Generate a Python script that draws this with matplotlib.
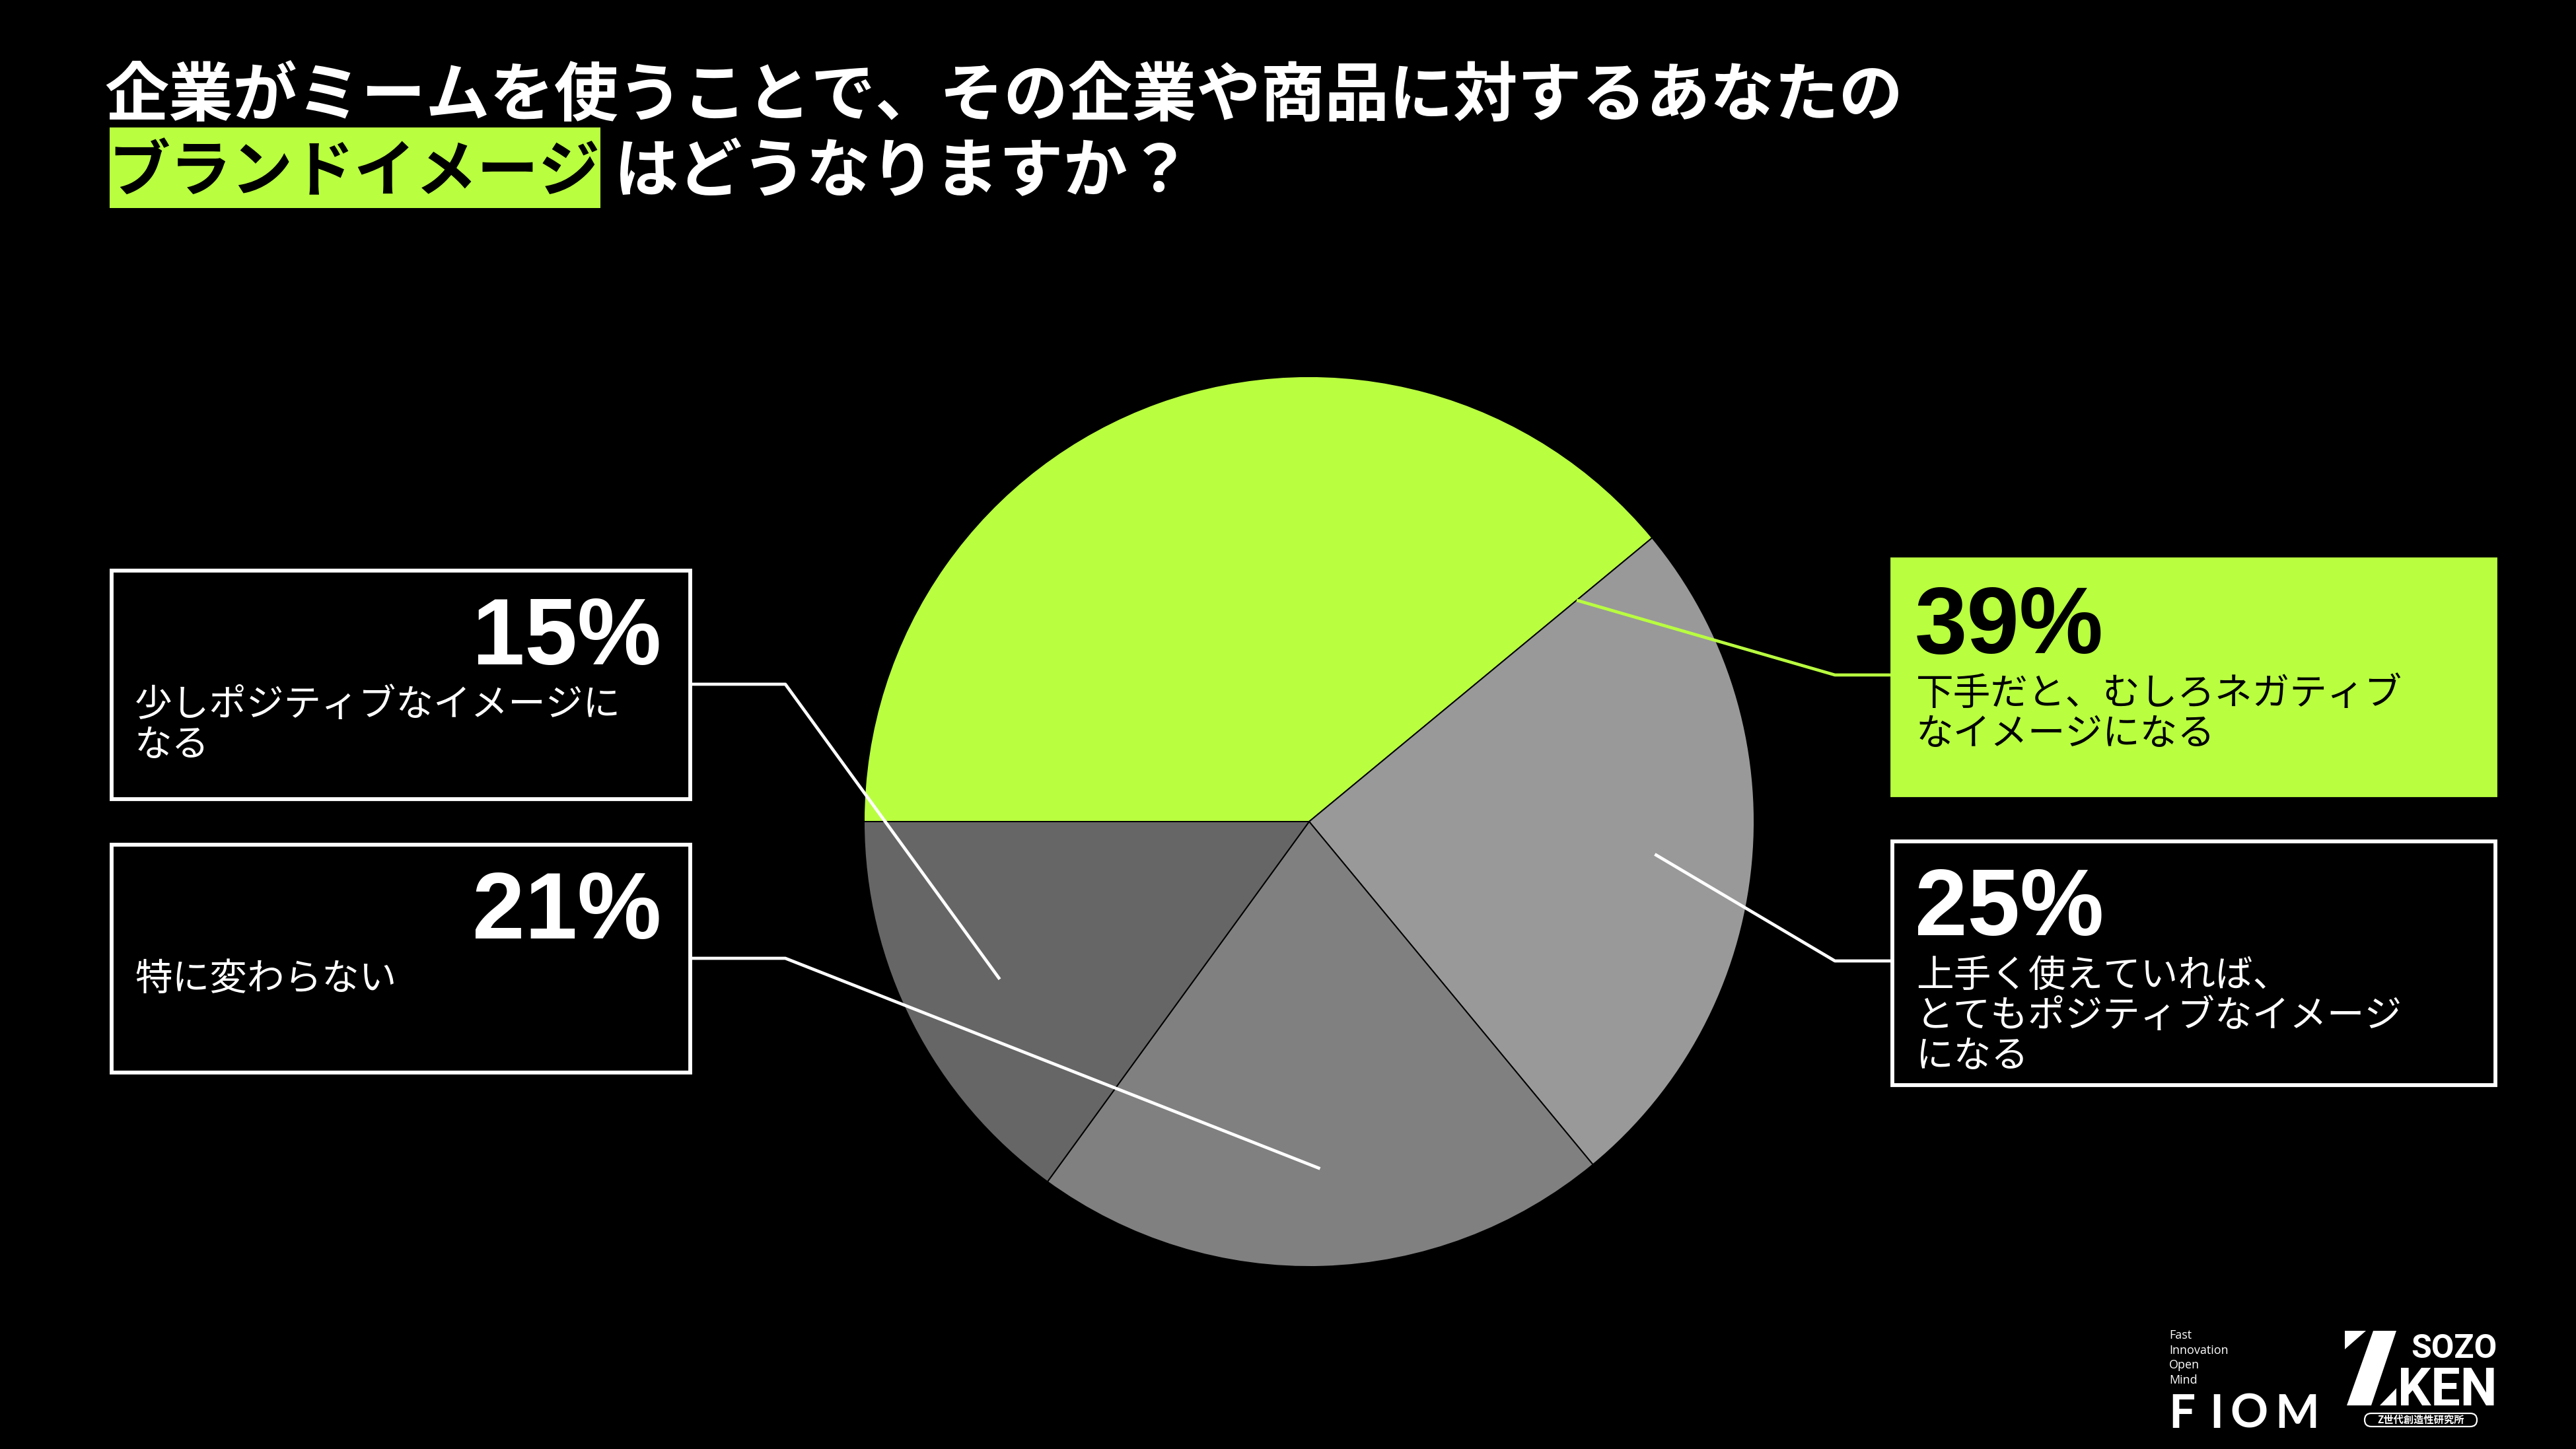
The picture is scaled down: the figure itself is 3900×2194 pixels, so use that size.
"""Pie chart: corporate meme usage and brand image (Z世代 survey slide)."""
import numpy as np
import matplotlib
matplotlib.use("Agg")
import matplotlib.pyplot as plt
from matplotlib.patches import Rectangle, Polygon, FancyBboxPatch

# -----------------------------------------------------------------------------
# Data
# -----------------------------------------------------------------------------
TITLE_LINE1 = "企業がミームを使うことで、その企業や商品に対するあなたの"
TITLE_HIGHLIGHT = "ブランドイメージ"
TITLE_REST = "はどうなりますか？"

values = [39, 25, 21, 15]
pct_labels = ["39%", "25%", "21%", "15%"]
desc_lines = [
    ["下手だと、むしろネガティブ", "なイメージになる"],
    ["上手く使えていれば、", "とてもポジティブなイメージ", "になる"],
    ["特に変わらない"],
    ["少しポジティブなイメージに", "なる"],
]

GREEN = "#B9FF40"
slice_colors = [GREEN, "#999999", "#808080", "#666666"]

# -----------------------------------------------------------------------------
# Layout (pixel coords, y measured from the top of the image)
# -----------------------------------------------------------------------------
W, H = 3900, 2194
PIE_C = (1982, 1244)
PIE_R = 674

# box: (x0, y0, x1, y1), side, filled
boxes = [
    (2865, 847, 3778, 1204, "right", True),
    (2865, 1274, 3778, 1643, "right", False),
    (169, 1279, 1045, 1624, "left", False),
    (169, 864, 1045, 1210, "left", False),
]
knee_y = [1022, 1455, 1451, 1036]
anchor_frac = [0.0, 0.5, 0.5, 0.5]   # position along wedge for leader start
ANCHOR_R = 0.78

JP = ["Noto Sans CJK JP", "DejaVu Sans"]
NUM = ["Liberation Sans", "DejaVu Sans"]
plt.rcParams["font.family"] = JP


def Y(y):
    return H - y


fig = plt.figure(figsize=(W / 100, H / 100), dpi=100, facecolor="black")
ax = fig.add_axes([0, 0, 1, 1])
ax.set_facecolor("black")

wedges, _ = ax.pie(
    values,
    colors=slice_colors,
    startangle=180,
    counterclock=False,
    center=(PIE_C[0], Y(PIE_C[1])),
    radius=PIE_R,
    wedgeprops=dict(edgecolor="black", linewidth=1.4),
)
ax.set_xlim(0, W)
ax.set_ylim(0, H)
ax.axis("off")

# --- Title -------------------------------------------------------------------
ax.text(158, Y(147), TITLE_LINE1, color="white", fontsize=70, weight="bold",
        ha="left", va="center")
ax.add_patch(Rectangle((166, Y(315)), 909 - 166, 315 - 193,
                       facecolor=GREEN, edgecolor="none", zorder=4))
ax.text(164, Y(262), TITLE_HIGHLIGHT, color="black", fontsize=67,
        weight="bold", ha="left", va="center", zorder=5)
ax.text(930, Y(262), TITLE_REST, color="white", fontsize=70,
        weight="bold", ha="left", va="center")

# --- Boxes, labels and leader lines ------------------------------------------
for i, (x0, y0, x1, y1, side, filled) in enumerate(boxes):
    fg = "black" if filled else "white"
    line_c = GREEN if filled else "white"
    ax.add_patch(Rectangle((x0, Y(y1)), x1 - x0, y1 - y0,
                           facecolor=GREEN if filled else "black",
                           edgecolor=GREEN if filled else "white",
                           linewidth=4.2, zorder=3))
    if side == "right":
        ax.text(x0 + 34, Y(y0 + 142), pct_labels[i], color=fg, fontsize=103,
                weight="bold", family=NUM, ha="left", va="baseline", zorder=4)
        tx = x0 + 36
    else:
        ax.text(x1 - 44, Y(y0 + 142), pct_labels[i], color=fg, fontsize=103,
                weight="bold", family=NUM, ha="right", va="baseline", zorder=4)
        tx = x0 + 35
    for k, line in enumerate(desc_lines[i]):
        ax.text(tx, Y(y0 + 220 + 61 * k), line, color=fg, fontsize=40.8,
                ha="left", va="baseline", zorder=4)

    # leader line: from inside the wedge to a knee, then flat to the box
    w = wedges[i]
    ang = np.deg2rad(w.theta1 + anchor_frac[i] * (w.theta2 - w.theta1))
    sx = w.center[0] + ANCHOR_R * PIE_R * np.cos(ang)
    sy = w.center[1] + ANCHOR_R * PIE_R * np.sin(ang)
    ky = Y(knee_y[i])
    xs = [sx, 2778, x0] if side == "right" else [sx, 1189, x1]
    ax.plot(xs, [sy, ky, ky], color=line_c, linewidth=3.4,
            solid_capstyle="butt", zorder=2.5)

# --- Logos -------------------------------------------------------------------
for k, word in enumerate(["Fast", "Innovation", "Open", "Mind"]):
    ax.text(3284, Y(2027 + 22.7 * k), word, color="white", fontsize=13,
            family=["Open Sans", "DejaVu Sans"], ha="left", va="baseline")
for ch, lx in zip("FIOM", [3283, 3345, 3376, 3444]):
    ax.text(lx, Y(2162), ch, color="white", fontsize=51, weight="bold",
            family=["Lato", "DejaVu Sans"], ha="left", va="baseline")

zmark = [
    [(3550, 2015), (3582, 2015), (3550, 2043)],
    [(3593, 2015), (3628, 2015), (3590, 2128), (3553, 2128)],
    [(3603, 2128), (3628, 2128), (3628, 2102)],
]
for poly in zmark:
    ax.add_patch(Polygon([(px, Y(py)) for px, py in poly], closed=True,
                         facecolor="white", edgecolor="none"))
ax.text(3780, Y(2056), "SOZO", color="white", fontsize=36, weight="bold",
        family=["Roboto", "DejaVu Sans"], ha="right", va="baseline")
ax.text(3781, Y(2128), "KEN", color="white", fontsize=57, weight="bold",
        family=["Roboto", "DejaVu Sans"], ha="right", va="baseline")
ax.add_patch(FancyBboxPatch((3580, Y(2160)), 170, 20,
                            boxstyle="round,pad=0,rounding_size=10",
                            facecolor="black", edgecolor="white", linewidth=1.6))
ax.text(3665, Y(2150), "Z世代創造性研究所", color="white", fontsize=11,
        weight="bold", ha="center", va="center")

fig.savefig("out.png", dpi=100, facecolor="black")
